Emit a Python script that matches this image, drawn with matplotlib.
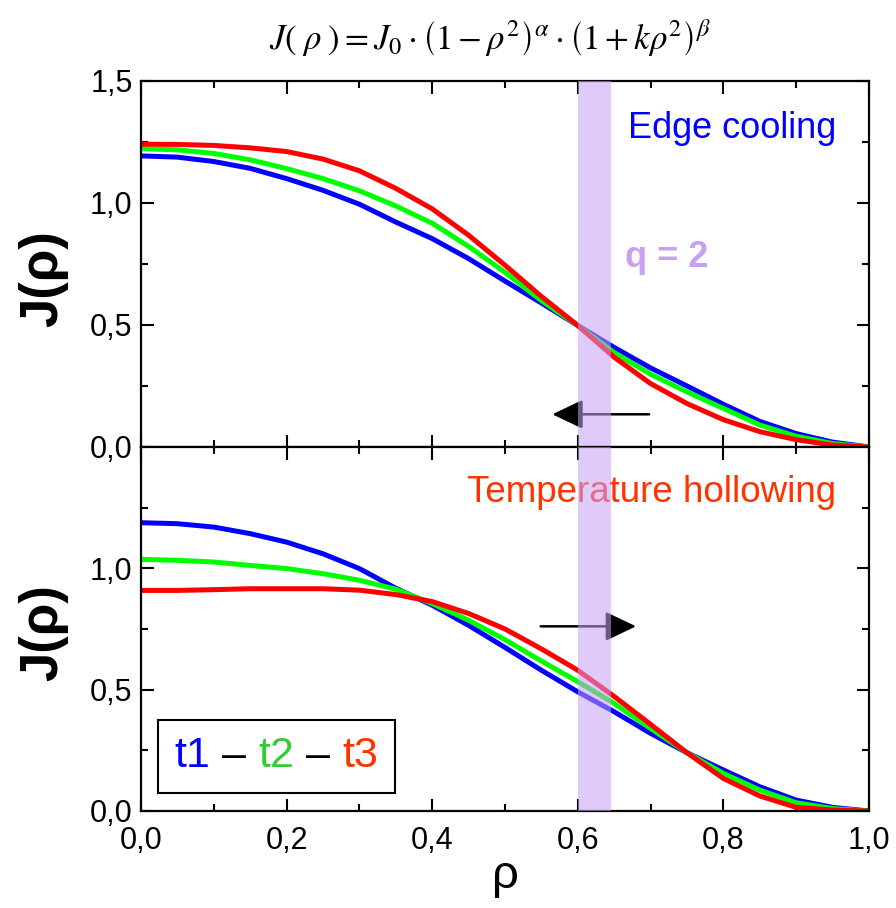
import matplotlib
matplotlib.use("Agg")
import matplotlib.pyplot as plt
from matplotlib.offsetbox import TextArea, HPacker, AnchoredOffsetbox
from matplotlib.ticker import MultipleLocator, FuncFormatter

plt.rcParams['font.family'] = ['Liberation Sans', 'DejaVu Sans']
plt.rcParams['mathtext.fontset'] = 'stix'

rho = [0.00, 0.05, 0.10, 0.15, 0.20, 0.25, 0.30, 0.35, 0.40, 0.45, 0.50,
       0.55, 0.60, 0.65, 0.70, 0.75, 0.80, 0.85, 0.90, 0.95, 1.00]

# Top panel: edge cooling
top_t1 = [1.193, 1.188, 1.170, 1.142, 1.100, 1.052, 0.995, 0.922, 0.854, 0.772, 0.680,
          0.590, 0.498, 0.408, 0.324, 0.250, 0.175, 0.105, 0.055, 0.020, 0.0]
top_t2 = [1.223, 1.218, 1.203, 1.177, 1.141, 1.100, 1.050, 0.988, 0.917, 0.822, 0.716,
          0.600, 0.498, 0.387, 0.298, 0.226, 0.158, 0.090, 0.044, 0.014, 0.0]
top_t3 = [1.241, 1.240, 1.236, 1.226, 1.211, 1.180, 1.132, 1.060, 0.976, 0.868, 0.745,
          0.617, 0.498, 0.368, 0.260, 0.178, 0.112, 0.063, 0.030, 0.008, 0.0]

# Bottom panel: temperature hollowing
bot_t1 = [1.188, 1.184, 1.170, 1.143, 1.108, 1.060, 0.999, 0.918, 0.848, 0.765, 0.674,
          0.580, 0.491, 0.409, 0.320, 0.240, 0.169, 0.100, 0.045, 0.015, 0.0]
bot_t2 = [1.037, 1.033, 1.026, 1.012, 0.999, 0.978, 0.951, 0.914, 0.855, 0.786, 0.706,
          0.618, 0.533, 0.443, 0.340, 0.240, 0.155, 0.086, 0.034, 0.010, 0.0]
bot_t3 = [0.909, 0.909, 0.912, 0.916, 0.916, 0.916, 0.910, 0.892, 0.863, 0.814, 0.750,
          0.668, 0.580, 0.472, 0.357, 0.240, 0.134, 0.062, 0.015, 0.004, 0.0]

series_labels = ['t1', 't2', 't3']
line_colors = ['#0000ff', '#00ff00', '#ff0000']
text_colors = ['#0000ff', '#33cc33', '#ff3300']

band = (0.600, 0.645)

W, H = 896, 908
fig = plt.figure(figsize=(W / 100, H / 100), dpi=100)
L, R = 141 / W, 869 / W
ax1 = fig.add_axes([L, 1 - 447 / H, R - L, (447 - 81) / H])
ax2 = fig.add_axes([L, 1 - 811 / H, R - L, (811 - 447) / H])

comma = FuncFormatter(lambda v, p: f"{v:.1f}".replace('.', ','))

for ax, data in [(ax1, [top_t1, top_t2, top_t3]), (ax2, [bot_t1, bot_t2, bot_t3])]:
    for vals, c in zip(data, line_colors):
        ax.plot(rho, vals, color=c, lw=3.6, solid_joinstyle='round',
                solid_capstyle='round', zorder=2)
    ax.axvspan(band[0], band[1], color='#c8a0f5', alpha=0.55, lw=0, zorder=5)
    ax.set_xlim(0, 1)
    ax.set_ylim(0, 1.5)
    ax.xaxis.set_major_locator(MultipleLocator(0.2))
    ax.xaxis.set_minor_locator(MultipleLocator(0.1))
    ax.yaxis.set_major_locator(MultipleLocator(0.5))
    ax.yaxis.set_minor_locator(MultipleLocator(0.25))
    ax.tick_params(which='both', direction='in', top=True, right=True, width=1.5,
                   labelsize=22, pad=6)
    ax.tick_params(axis='x', which='both', pad=11)
    ax.tick_params(which='major', length=9)
    ax.tick_params(which='minor', length=5)
    for s in ax.spines.values():
        s.set_linewidth(1.6)
    ax.xaxis.set_major_formatter(comma)
    ax.yaxis.set_major_formatter(comma)
    ax.set_ylabel('J(ρ)', fontsize=38, fontweight='bold')

ax1.tick_params(labelbottom=False)
ax2.set_yticks([0.0, 0.5, 1.0])
ax2.set_xlabel('ρ', fontsize=34, labelpad=-2)
ax1.yaxis.set_label_coords(-0.100, 0.46)
ax2.yaxis.set_label_coords(-0.100, 0.49)

ax1.text(0.955, 0.87, 'Edge cooling', transform=ax1.transAxes, color='#0000ff',
         fontsize=26, ha='right', va='center', zorder=3)
ax1.text(0.665, 0.777, 'q = 2', color='#c8a0f0', fontsize=26, fontweight='bold',
         ha='left', va='center', zorder=3)
ax2.text(0.955, 0.875, 'Temperature hollowing', transform=ax2.transAxes, color='#ff3300',
         fontsize=26.5, ha='right', va='center', zorder=3)

arrow_style = "-|>,head_length=0.42,head_width=0.2"
ax1.annotate('', xy=(0.565, 0.134), xytext=(0.698, 0.134),
             arrowprops=dict(arrowstyle=arrow_style, mutation_scale=45, lw=1.8,
                             color='black', shrinkA=0, shrinkB=0), zorder=3)
ax2.annotate('', xy=(0.680, 0.761), xytext=(0.549, 0.761),
             arrowprops=dict(arrowstyle=arrow_style, mutation_scale=45, lw=1.8,
                             color='black', shrinkA=0, shrinkB=0), zorder=3)

parts = []
for i, (lab, c) in enumerate(zip(series_labels, text_colors)):
    parts.append(TextArea(lab, textprops=dict(color=c, fontsize=31)))
    if i < len(series_labels) - 1:
        parts.append(TextArea(' \u2013 ', textprops=dict(color='black', fontsize=31)))
box = HPacker(children=parts, align='center', pad=0, sep=0)
anch = AnchoredOffsetbox(loc='lower left', child=box, pad=1.2, frameon=True,
                         bbox_to_anchor=(0.023, 0.049), bbox_transform=ax2.transAxes,
                         borderpad=0)
anch.patch.set_edgecolor('black')
anch.patch.set_linewidth(1.5)
anch.patch.set_boxstyle('square', pad=0)
anch.zorder = 6
ax2.add_artist(anch)

fig.text(0.547, 0.958,
         r'$J(\;\rho\;) = J_0\cdot\left(1-\rho^2\right)^{\alpha}\cdot\left(1+k\rho^2\right)^{\beta}$',
         fontsize=25, ha='center', va='center')

fig.savefig('out.png', dpi=100)
